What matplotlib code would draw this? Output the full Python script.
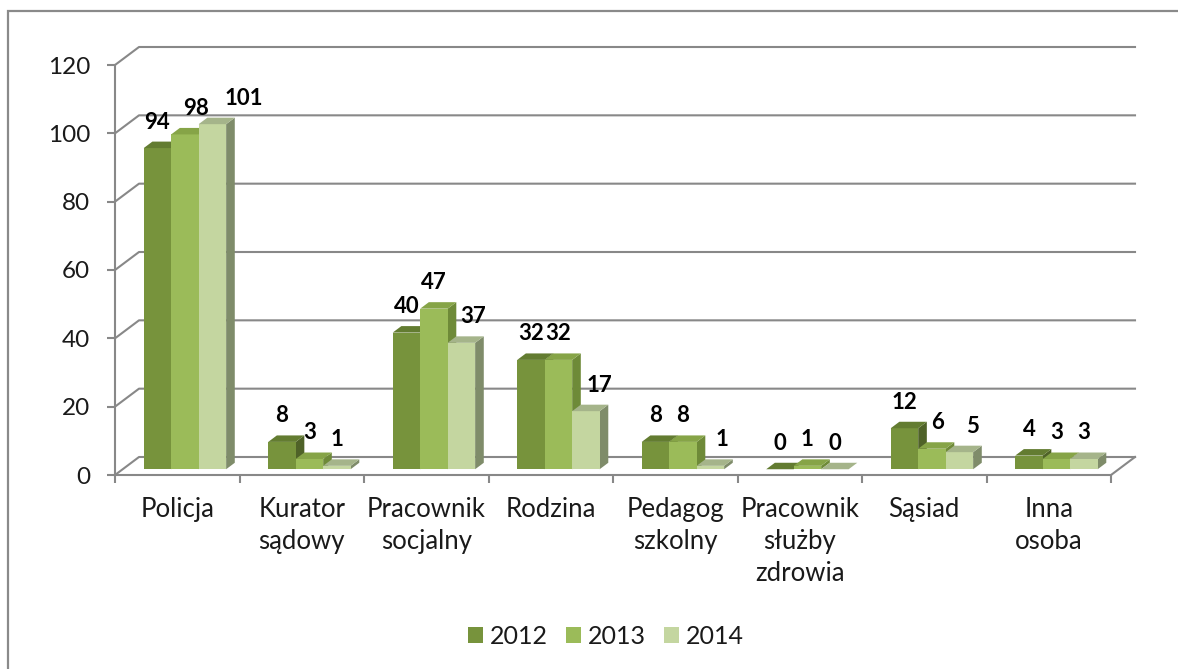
import matplotlib
matplotlib.use("Agg")
import matplotlib.pyplot as plt
from matplotlib.patches import Polygon, Patch, Rectangle
from matplotlib.lines import Line2D

# ---------------- data ----------------
categories = ["Policja", "Kurator\nsądowy", "Pracownik\nsocjalny", "Rodzina",
              "Pedagog\nszkolny", "Pracownik\nsłużby\nzdrowia", "Sąsiad", "Inna\nosoba"]
years = ["2012", "2013", "2014"]
v2012 = [94, 8, 40, 32, 8, 0, 12, 4]
v2013 = [98, 3, 47, 32, 8, 1, 6, 3]
v2014 = [101, 1, 37, 17, 1, 0, 5, 3]
yticks = [0, 20, 40, 60, 80, 100, 120]
series = [v2012, v2013, v2014]

# ---------------- style ----------------
plt.rcParams["font.family"] = ["Lato", "DejaVu Sans"]
FRONT = ["#77933C", "#9BBB59", "#C4D6A0"]
TOP = ["#637C31", "#86A447", "#A5B48A"]
SIDE = ["#4F6228", "#6E8A38", "#7F8C6A"]
GRID = "#888888"
TXT = "#1a1a1a"

W_PX, H_PX = 1178, 669
fig = plt.figure(figsize=(W_PX / 100, H_PX / 100), dpi=100)
ax_l, ax_r, ax_b, ax_t = 115, 1111, 475, 65
ax = fig.add_axes([ax_l / W_PX, 1 - ax_b / H_PX, (ax_r - ax_l) / W_PX, (ax_b - ax_t) / H_PX])
n = len(categories)
ax.set_xlim(0, n)
ax.set_ylim(0, 120)
ax.set_facecolor("none")

px_x = (ax_r - ax_l) / n          # pixels per category unit
px_y = (ax_b - ax_t) / 120.0      # pixels per value unit
DX = 24 / px_x                    # wall depth in data units
DY = 18 / px_y

# spines / ticks
for s in ["top", "right"]:
    ax.spines[s].set_visible(False)
for s in ["left", "bottom"]:
    ax.spines[s].set_color(GRID)
    ax.spines[s].set_linewidth(1.5)
ax.set_yticks(yticks)
ax.set_yticklabels([str(t) for t in yticks])
ax.tick_params(axis="y", length=5.8, width=1.5, color=GRID, direction="out",
               pad=12, labelsize=17.5, labelcolor=TXT)
ax.set_xticks(range(n + 1))
ax.set_xticklabels([])
ax.tick_params(axis="x", which="major", length=5.8, width=1.5, color=GRID, direction="out")
ax.set_xticks([i + 0.5 for i in range(n)], minor=True)
ax.set_xticklabels(categories, minor=True)
ax.tick_params(axis="x", which="minor", length=0, pad=16, labelsize=18.5, labelcolor=TXT)
for lbl in ax.get_xticklabels(minor=True):
    lbl.set_linespacing(1.35)

# back wall gridlines + floor
for v in yticks:
    ax.add_line(Line2D([0, DX, n + DX], [v, v + DY, v + DY], color=GRID, lw=1.5,
                       clip_on=False, zorder=1))
ax.add_line(Line2D([n, n + DX], [0, DY], color=GRID, lw=1.5, clip_on=False, zorder=1))

# bars (pseudo-3D)
margin = 0.169
bw = (1 - 2 * margin) / 3
f0, f1 = 0.32, 0.68
nudges_px = {(0, 1): 11, (0, 2): 31, (2, 2): 12, (3, 2): 14, (4, 2): 12, (6, 1): 6, (6, 2): 13}
z = 2
for i in range(n):
    for j, vals in enumerate(series):
        v = vals[i]
        x0 = i + margin + j * bw
        ox0, oy0 = f0 * DX, f0 * DY
        ox1, oy1 = f1 * DX, f1 * DY
        side = Polygon([(x0 + bw + ox0, oy0), (x0 + bw + ox1, oy1),
                        (x0 + bw + ox1, v + oy1), (x0 + bw + ox0, v + oy0)],
                       closed=True, facecolor=SIDE[j], edgecolor="none", clip_on=False, zorder=z)
        front = Rectangle((x0 + ox0, oy0), bw, v, facecolor=FRONT[j], edgecolor="none",
                          clip_on=False, zorder=z + 0.1)
        top = Polygon([(x0 + ox0, v + oy0), (x0 + bw + ox0, v + oy0),
                       (x0 + bw + ox1, v + oy1), (x0 + ox1, v + oy1)],
                      closed=True, facecolor=TOP[j], edgecolor="none", clip_on=False, zorder=z + 0.2)
        for p in (side, front, top):
            ax.add_patch(p)
        z += 1
        lx = x0 + ox0 + bw / 2 + nudges_px.get((i, j), 0) / px_x
        ly = v + oy0 + 26 / px_y
        ax.text(lx, ly, str(v), ha="center", va="center", fontsize=16,
                fontweight="bold", color="black", zorder=100, clip_on=False)

# legend
handles = [Patch(facecolor=FRONT[k], edgecolor="none", label=years[k]) for k in range(3)]
fig.legend(handles=handles, loc="center", bbox_to_anchor=(606 / W_PX, 1 - 636 / H_PX),
           ncol=3, frameon=False, fontsize=18, handlelength=0.6, handleheight=0.6,
           handletextpad=0.3, columnspacing=0.7, labelcolor=TXT)

# outer border (only top and left visible in the reference)
fig.patches.append(Rectangle((8 / W_PX, -0.05), 1.1, 1 - 11 / H_PX + 0.05,
                             transform=fig.transFigure, fill=False,
                             edgecolor="#8a8a8a", lw=1.6))

fig.savefig("out.png", dpi=100)
